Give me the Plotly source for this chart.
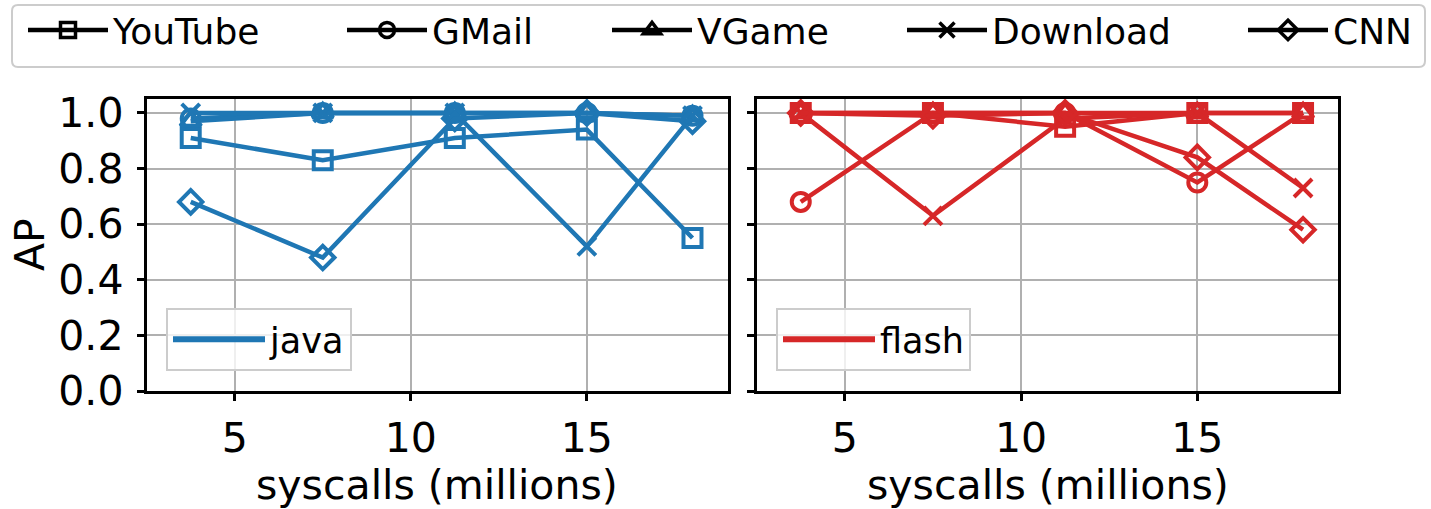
import plotly.graph_objects as go

# syscall counts (millions) at which AP was measured
syscalls = [3.75, 7.5, 11.25, 15.0, 18.0]
apps = ["YouTube", "GMail", "VGame", "Download", "CNN"]

# AP per application, java workload
java_youtube = [0.91, 0.83, 0.91, 0.94, 0.55]
java_gmail = [0.98, 1.0, 1.0, 1.0, 0.99]
java_vgame = [0.97, 1.0, 1.0, 1.0, 0.99]
java_download = [1.0, 1.0, 1.0, 0.52, 0.99]
java_cnn = [0.68, 0.48, 0.98, 1.0, 0.97]

# AP per application, flash workload
flash_youtube = [1.0, 1.0, 0.95, 1.0, 1.0]
flash_gmail = [0.68, 1.0, 1.0, 0.75, 1.0]
flash_vgame = [1.0, 1.0, 1.0, 1.0, 1.0]
flash_download = [1.0, 0.63, 0.98, 1.0, 0.73]
flash_cnn = [1.0, 0.99, 1.0, 0.84, 0.58]

y_ticks = [0.0, 0.2, 0.4, 0.6, 0.8, 1.0]
x_ticks = [5, 10, 15]

java_series = [java_youtube, java_gmail, java_vgame, java_download, java_cnn]
flash_series = [flash_youtube, flash_gmail, flash_vgame, flash_download, flash_cnn]

symbols = {
    "YouTube": "square-open",
    "GMail": "circle-open",
    "VGame": "triangle-up-open",
    "Download": "x-thin-open",
    "CNN": "diamond-open",
}

BLUE = "#1f77b4"
RED = "#d62728"
FONT = "DejaVu Sans"
LW = 4.5
MSIZE = 18
W, H = 1431, 509

fig = go.Figure()


def add_series(xs, ys, name, color, xa, ya):
    fig.add_trace(go.Scatter(
        x=xs, y=ys, mode="lines+markers", name=name,
        xaxis=xa, yaxis=ya, showlegend=False,
        line=dict(color=color, width=LW),
        marker=dict(symbol=symbols[name], size=MSIZE, color=color,
                    line=dict(color=color, width=4)),
    ))


for name, ys in zip(apps, java_series):
    add_series(syscalls, ys, name, BLUE, "x", "y")
for name, ys in zip(apps, flash_series):
    add_series(syscalls, ys, name, RED, "x2", "y2")

# shared application key along the top: one single-entry legend per app
app_keys = ["legend", "legend2", "legend3", "legend4", "legend5"]
app_key_left = [23, 342, 607, 902, 1243]
legend_layout = {}
for name, key, left in zip(apps, app_keys, app_key_left):
    fig.add_trace(go.Scatter(
        x=[None], y=[None], mode="lines+markers", name=name,
        legend=key, showlegend=True,
        line=dict(color="black", width=LW),
        marker=dict(symbol=symbols[name], size=15, color="black",
                    line=dict(color="black", width=3.5)),
    ))
    legend_layout[key] = dict(
        x=left / W, y=1.0, xanchor="left", yanchor="top",
        bgcolor="rgba(0,0,0,0)", borderwidth=0,
        font=dict(size=36, family=FONT, color="black"), itemwidth=80,
    )

# per-panel workload legends
fig.add_trace(go.Scatter(x=[None], y=[None], mode="lines", name="java",
                         legend="legend6", line=dict(color=BLUE, width=6)))
fig.add_trace(go.Scatter(x=[None], y=[None], mode="lines", name="flash",
                         legend="legend7", line=dict(color=RED, width=6)))
for key, left in [("legend6", 166), ("legend7", 776)]:
    legend_layout[key] = dict(
        x=left / W, y=(H - 308) / H, xanchor="left", yanchor="top",
        bgcolor="rgba(255,255,255,0.8)", bordercolor="#cccccc", borderwidth=2,
        font=dict(size=35, family=FONT, color="black"), itemwidth=92,
    )

left_dom = [146.7 / W, 727.7 / W]
right_dom = [756.7 / W, 1338.3 / W]
y_dom = [(H - 391) / H, (H - 99) / H]

axis_common = dict(
    showgrid=True, gridcolor="#b0b0b0", gridwidth=1.5,
    showline=True, linecolor="black", linewidth=3, mirror=True,
    ticks="outside", ticklen=7, tickwidth=2.5, tickcolor="black",
    tickfont=dict(size=41, family=FONT, color="black"),
    zeroline=False, automargin=False,
)


def rounded_rect(x0, y0, x1, y1, r):
    # pixel box (top-left origin) -> paper-coordinate SVG path with rounded corners
    px = lambda v: v / W
    py = lambda v: (H - v) / H
    return (
        f"M {px(x0 + r)},{py(y0)} L {px(x1 - r)},{py(y0)} "
        f"Q {px(x1)},{py(y0)} {px(x1)},{py(y0 + r)} "
        f"L {px(x1)},{py(y1 - r)} Q {px(x1)},{py(y1)} {px(x1 - r)},{py(y1)} "
        f"L {px(x0 + r)},{py(y1)} Q {px(x0)},{py(y1)} {px(x0)},{py(y1 - r)} "
        f"L {px(x0)},{py(y0 + r)} Q {px(x0)},{py(y0)} {px(x0 + r)},{py(y0)} Z"
    )


fig.update_layout(
    width=W, height=H,
    margin=dict(l=0, r=0, t=0, b=0),
    paper_bgcolor="white", plot_bgcolor="white",
    font=dict(family=FONT, color="black"),
    xaxis=dict(domain=left_dom, range=[2.5, 19.0], tickvals=x_ticks,
               anchor="y", ticklabelstandoff=2, **axis_common),
    xaxis2=dict(domain=right_dom, range=[2.5, 19.0], tickvals=x_ticks,
                anchor="y2", ticklabelstandoff=2, **axis_common),
    yaxis=dict(domain=y_dom, range=[0, 1.05], tickvals=y_ticks,
               ticktext=[f"{v:.1f}" for v in y_ticks], anchor="x",
               ticklabelstandoff=5, **axis_common),
    yaxis2=dict(domain=y_dom, range=[0, 1.05], tickvals=y_ticks,
                matches="y", anchor="x2", showticklabels=False,
                **axis_common),
    shapes=[dict(type="path", xref="paper", yref="paper",
                 path=rounded_rect(12, 5, 1425, 67, 6),
                 line=dict(color="#cccccc", width=2), fillcolor="white",
                 layer="above")],
    annotations=[
        dict(text="AP", x=30 / W, y=(H - 245) / H, xref="paper", yref="paper",
             textangle=-90, showarrow=False, xanchor="center", yanchor="middle",
             font=dict(size=41, family=FONT, color="black")),
        dict(text="syscalls (millions)", x=sum(left_dom) / 2, y=(H - 485) / H,
             xref="paper", yref="paper", showarrow=False,
             xanchor="center", yanchor="middle",
             font=dict(size=41, family=FONT, color="black")),
        dict(text="syscalls (millions)", x=sum(right_dom) / 2, y=(H - 485) / H,
             xref="paper", yref="paper", showarrow=False,
             xanchor="center", yanchor="middle",
             font=dict(size=41, family=FONT, color="black")),
    ],
    **legend_layout,
)

fig.write_html("out.html")
